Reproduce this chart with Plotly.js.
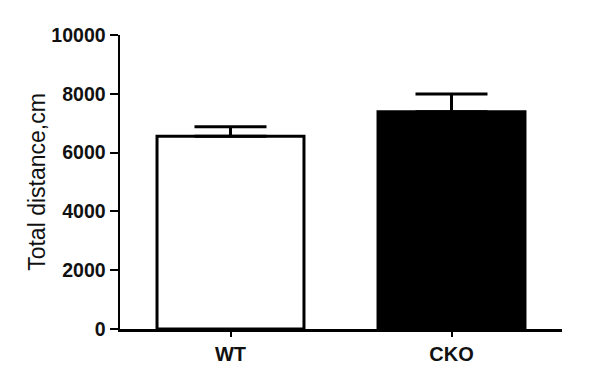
<!DOCTYPE html>
<html>
<head>
<meta charset="utf-8">
<script src="https://cdn.plot.ly/plotly-3.0.1.min.js"></script>
<style>html,body{margin:0;padding:0;background:#fff;}#chart{width:600px;height:386px;}</style>
</head>
<body>
<div id="chart"></div>
<script>
const categories = ["WT", "CKO"];
const means = [6560, 7390];
const errUp = [320, 600];
const fills = ["#ffffff", "#000000"];
const yTicks = [0, 2000, 4000, 6000, 8000, 10000];
const yTitle = "Total distance,cm";

const trace = {
  type: "bar",
  x: categories,
  y: means,
  width: 0.665,
  marker: { color: fills, line: { color: "#000", width: 3 } },
  error_y: { type: "data", symmetric: false, array: errUp, arrayminus: [0, 0], color: "#000", thickness: 3, width: 36 },
  hoverinfo: "skip"
};

const layout = {
  width: 600, height: 386,
  margin: { l: 120, r: 38, t: 35, b: 57 },
  paper_bgcolor: "#fff", plot_bgcolor: "#fff",
  showlegend: false,
  font: { family: "Liberation Sans, Arial, sans-serif", color: "#111" },
  xaxis: {
    type: "category", range: [-0.5, 1.5],
    showline: true, linecolor: "#000", linewidth: 2.5,
    ticks: "outside", ticklen: 5, tickwidth: 2, tickcolor: "#000",
    tickfont: { size: 20, weight: "bold", color: "#111" },
    showgrid: false, zeroline: false, fixedrange: true
  },
  yaxis: {
    range: [0, 10000], tickvals: yTicks, ticktext: yTicks.map(String),
    showline: true, linecolor: "#000", linewidth: 2.5,
    ticks: "outside", ticklen: 8, tickwidth: 2, tickcolor: "#000",
    tickfont: { size: 19.5, weight: "bold", color: "#111" },
    showgrid: false, zeroline: false, fixedrange: true,
    title: { text: yTitle, font: { size: 23, color: "#111" }, standoff: 0 }
  }
};

Plotly.newPlot("chart", [trace], layout, { displayModeBar: false, staticPlot: true });
</script>
</body>
</html>
